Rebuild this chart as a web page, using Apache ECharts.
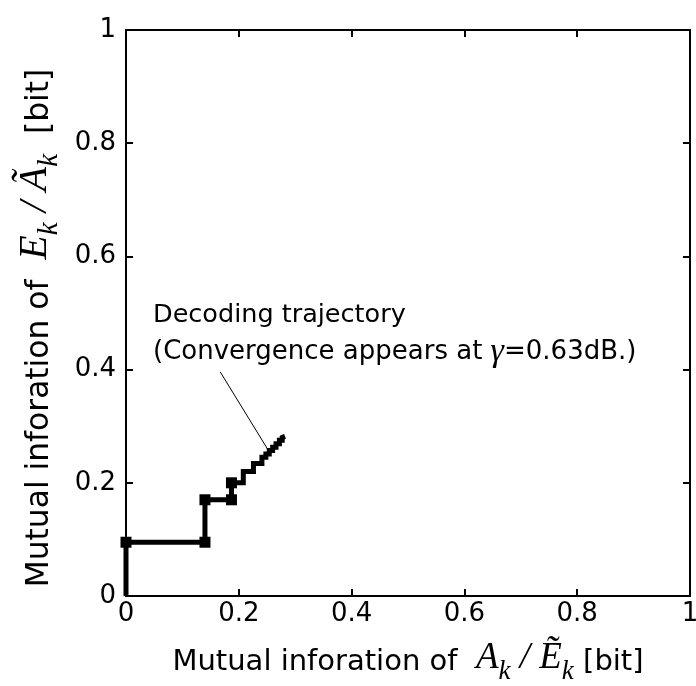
<!DOCTYPE html>
<html>
<head>
<meta charset="utf-8">
<script src="https://cdn.jsdelivr.net/npm/echarts@6/dist/echarts.min.js"></script>
<style>
  html, body { margin: 0; padding: 0; background: #fff; }
  #chart { width: 696px; height: 686px; }
</style>
</head>
<body>
<div id="chart"></div>
<script>
// Decoding trajectory between the two component decoders (EXIT chart)
const trajX = [0, 0, 0.140, 0.140, 0.187, 0.187, 0.208, 0.208, 0.226, 0.226, 0.241, 0.241,
               0.248, 0.248, 0.254, 0.254, 0.260, 0.260, 0.266, 0.266, 0.272, 0.272, 0.277, 0.277, 0.282];
const trajY = [0, 0.095, 0.095, 0.170, 0.170, 0.200, 0.200, 0.220, 0.220, 0.234, 0.234, 0.245,
               0.245, 0.251, 0.251, 0.257, 0.257, 0.263, 0.263, 0.269, 0.269, 0.275, 0.275, 0.280, 0.282];
// indices of the iterations drawn with a square marker
const markedIdx = [1, 2, 3, 4, 5];

// leader line from the note to the trajectory
const leaderFrom = [0.167, 0.396];
const leaderTo = [0.252, 0.258];

const axisTicks = [0, 0.2, 0.4, 0.6, 0.8, 1];

const SANS = '"DejaVu Sans", Verdana, sans-serif';
const SERIF = '"Liberation Serif", "Times New Roman", serif';
const FS = 26;

function nameRich(scale) {
  return {
    t: { fontFamily: SANS, fontSize: 29 * scale, color: '#000', padding: [0, 0, 8 * scale, 0], verticalAlign: 'bottom' },
    m: { fontFamily: SERIF, fontStyle: 'italic', fontSize: 37 * scale, color: '#000', padding: [0, 0, 8 * scale, 0], verticalAlign: 'bottom' },
    s: { fontFamily: SERIF, fontStyle: 'italic', fontSize: 27 * scale, color: '#000', verticalAlign: 'bottom' },
    gap: { width: 30, padding: [0, 0, 8, 0], verticalAlign: 'bottom' }
  };
}

const chart = echarts.init(document.getElementById('chart'));

function axisBase(show) {
  return {
    type: 'value',
    min: axisTicks[0],
    max: axisTicks[axisTicks.length - 1],
    interval: 0.2,
    axisLine: { show: true, onZero: false, lineStyle: { color: '#000', width: 2 } },
    axisTick: { show: true, inside: true, length: 7, lineStyle: { color: '#000', width: 2 } },
    axisLabel: { show: show, color: '#000', fontFamily: SANS, fontSize: FS },
    splitLine: { show: false }
  };
}

const xMain = Object.assign(axisBase(true), {
  position: 'bottom',
  name: '{t|Mutual inforation of  }{m|A}{s|k}{m| / Ẽ}{s|k}{t| [bit]}',
  nameLocation: 'middle',
  nameGap: 44,
  nameTextStyle: { rich: nameRich(1) }
});
xMain.axisLabel.margin = 5;
const xTop = Object.assign(axisBase(false), { position: 'top' });

const yMain = Object.assign(axisBase(true), {
  position: 'left',
  name: '{t|Mutual inforation of  }{m|E}{s|k}{m| / Ã}{s|k}{t|  [bit]}{gap|}',
  nameLocation: 'middle',
  nameRotate: 90,
  nameGap: 54,
  nameTextStyle: { rich: nameRich(1.08) }
});
yMain.axisLabel.margin = 10;
const yRight = Object.assign(axisBase(false), { position: 'right' });

chart.setOption({
  animation: false,
  backgroundColor: '#fff',
  grid: { left: 126, right: 6, top: 30, bottom: 90, containLabel: false, outerBoundsMode: 'none' },
  xAxis: [xMain, xTop],
  yAxis: [yMain, yRight],
  series: [{
    type: 'line',
    xAxisIndex: 0,
    yAxisIndex: 0,
    data: trajX.map((x, i) => [x, trajY[i]]),
    showSymbol: true,
    showAllSymbol: true,
    symbol: (val, params) => markedIdx.indexOf(params.dataIndex) >= 0 ? 'rect' : 'none',
    symbolSize: 11,
    itemStyle: { color: '#000' },
    lineStyle: { color: '#000', width: 5, join: 'miter', cap: 'butt' },
    silent: true,
    markLine: {
      silent: true,
      symbol: ['none', 'none'],
      label: { show: false },
      lineStyle: { color: '#000', width: 1, type: 'solid' },
      data: [[{ coord: leaderFrom }, { coord: leaderTo }]]
    }
  }],
  graphic: [
    {
      type: 'text', left: 153, top: 302,
      style: { text: 'Decoding trajectory', fontFamily: SANS, fontSize: 25.5, fill: '#000' }
    },
    {
      type: 'text', left: 153, top: 335,
      style: {
        text: '{a|(Convergence appears at }{g|γ}{a|=0.63dB.)}',
        rich: {
          a: { fontFamily: SANS, fontSize: 26, fill: '#000', color: '#000' },
          g: { fontFamily: SERIF, fontStyle: 'italic', fontSize: 34, fill: '#000', color: '#000' }
        }
      }
    }
  ]
});
</script>
</body>
</html>
